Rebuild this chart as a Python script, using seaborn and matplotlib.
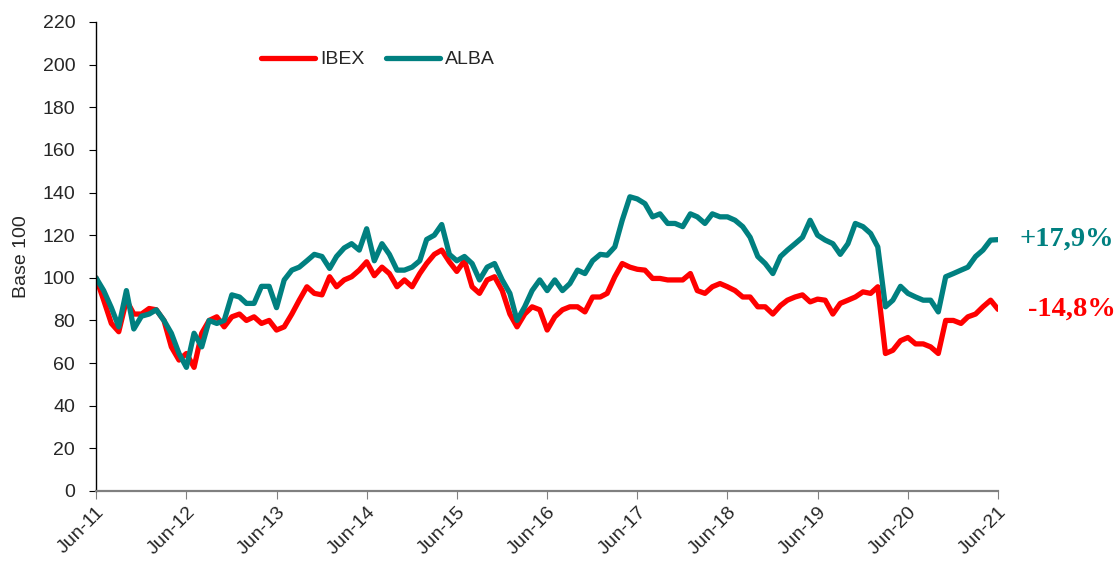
import numpy as np
import pandas as pd
import seaborn as sns
import matplotlib.pyplot as plt
import matplotlib.dates as mdates

# monthly closes, base 100 = Jun-11
fechas = pd.date_range("2011-06-30", periods=121, freq="ME")

ibex = [100, 89.5, 78.6, 74.7, 89.5, 83, 83, 85.6, 85, 80, 67.6, 61.4, 64.5, 58, 74, 80, 81.7, 77, 81.7, 83, 80, 81.7, 78.6, 80, 75.5,
        77, 83, 89.5, 95.8, 92.7, 92, 100.5, 95.8, 99, 100.5, 103.6, 107.5, 101, 105, 102, 95.8, 99, 95.8, 102, 106.7, 111, 113, 107.5, 103,
        108, 95.8, 92.7, 99, 100.5, 94, 83, 77, 83, 86.4, 85, 75.5, 81.7, 85, 86.4, 86.4, 84, 91, 91, 92.7, 100.5, 106.7, 105, 104,
        103.6, 99.7, 99.7, 99, 99, 99, 102, 94, 92.7, 95.8, 97.3, 95.8, 94, 91, 91, 86.4, 86.4, 83, 87, 89.5, 91, 92, 88.7, 90,
        89.5, 83, 88, 89.5, 91, 93.4, 92.7, 95.8, 64.5, 66, 70.5, 72, 69, 69, 67.6, 64.5, 80, 80, 78.6, 81.7, 83, 86.4, 89.5, 85.2]

alba = [100, 94, 86, 77, 94, 76, 82, 83, 85, 80, 74, 64.5, 58, 74, 67.6, 80, 78.6, 80, 92, 91, 88, 88, 96, 96, 86,
        99, 103.6, 105, 108, 111, 110, 104.4, 110, 114, 116, 113, 123, 108, 116, 111, 103.6, 103.6, 105, 108, 118, 120, 125, 111, 108,
        110, 106.7, 99, 105, 106.7, 99, 92.7, 80, 86.4, 94, 99, 94, 99, 94, 97.3, 103.6, 102, 108, 111, 110.6, 114.5, 127, 138, 137,
        134.8, 128.6, 130, 125.5, 125.5, 124, 130, 128.6, 125.5, 130, 128.6, 128.6, 127, 124, 119, 110, 106.7, 102, 110, 113, 116, 119, 127, 120,
        117.7, 116, 111, 116, 125.5, 124, 120.8, 114.5, 86.4, 89.5, 96, 92.7, 91, 89.5, 89.5, 84, 100.5, 102, 103.6, 105, 110, 113, 117.7, 117.9]

etiquetas = {"ALBA": "+17,9%", "IBEX": "-14,8%"}
colores = {"IBEX": "#ff0000", "ALBA": "#008080"}

df = pd.DataFrame({
    "fecha": list(fechas) * 2,
    "valor": ibex + alba,
    "serie": ["IBEX"] * len(ibex) + ["ALBA"] * len(alba),
})

sns.set_style("white")
plt.rcParams["font.family"] = ["Liberation Sans", "DejaVu Sans"]

fig = plt.figure(figsize=(11.18, 5.61), dpi=100)
ax = fig.add_axes([0.0859, 0.1248, 0.8068, 0.836])

sns.lineplot(data=df, x="fecha", y="valor", hue="serie", hue_order=["IBEX", "ALBA"],
             palette=colores, linewidth=3.8, ax=ax)

ax.set_ylim(0, 220)
ax.set_yticks(np.arange(0, 221, 20))
ax.set_xlim(fechas[0], fechas[-1])
ax.xaxis.set_major_locator(mdates.MonthLocator(bymonth=6, bymonthday=30))
ax.xaxis.set_major_formatter(mdates.DateFormatter("%b-%y"))
ax.set_xlabel("")
ax.set_ylabel("Base 100", fontsize=14)
ax.yaxis.set_label_coords(-0.073, 0.5)

for s in ["top", "right"]:
    ax.spines[s].set_visible(False)
ax.spines["left"].set_color("black")
ax.spines["bottom"].set_color("#808080")
ax.spines["left"].set_linewidth(1)
ax.spines["bottom"].set_linewidth(1.6)
ax.tick_params(axis="y", direction="out", length=5, pad=10, left=True, labelsize=14, color="black")
ax.tick_params(axis="x", direction="out", length=6, pad=3, bottom=True, labelsize=14, color="#808080")
plt.setp(ax.get_xticklabels(), rotation=45, ha="right", rotation_mode="anchor")

handles, labels = ax.get_legend_handles_labels()
ax.legend(handles, labels, loc="center left", bbox_to_anchor=(0.163, 0.92), ncol=2,
          frameon=False, fontsize=14, handlelength=2.8, handletextpad=0.25, columnspacing=1.1)

for serie, vals in [("ALBA", alba), ("IBEX", ibex)]:
    ax.annotate(etiquetas[serie], xy=(fechas[-1], vals[-1]), xytext=(21 if serie == "ALBA" else 30, 0),
                textcoords="offset pixels", va="center", ha="left", annotation_clip=False,
                fontsize=20.5, fontweight="bold", color=colores[serie], family="Liberation Serif")

fig.savefig("out.png", dpi=100)
